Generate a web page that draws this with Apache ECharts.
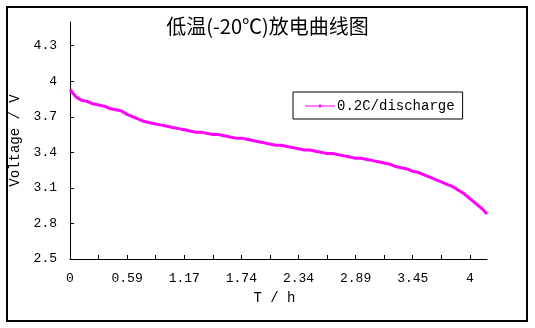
<!DOCTYPE html>
<html>
<head>
<meta charset="utf-8">
<script src="https://cdn.jsdelivr.net/npm/echarts@6/dist/echarts.min.js"></script>
<style>
html,body{margin:0;padding:0;background:#fff;}
#c{width:535px;height:328px;}
</style>
</head>
<body>
<div id="c"></div>
<script>
var titleText = '低温(-20℃)放电曲线图';
var seriesName = '0.2C/discharge';
var xName = 'T / h';
var yName = 'Voltage / V';

var times = [
  0, 0.06, 0.12, 0.18, 0.24, 0.30, 0.35, 0.41, 0.47, 0.53,
  0.59, 0.65, 0.71, 0.76, 0.82, 0.88, 0.94, 1.00, 1.05, 1.11,
  1.17, 1.23, 1.29, 1.34, 1.40, 1.46, 1.51, 1.57, 1.63, 1.68,
  1.74, 1.80, 1.86, 1.92, 1.98, 2.04, 2.10, 2.16, 2.22, 2.28,
  2.34, 2.40, 2.45, 2.51, 2.56, 2.62, 2.67, 2.73, 2.78, 2.84,
  2.89, 2.95, 3.00, 3.06, 3.12, 3.17, 3.23, 3.28, 3.34, 3.39,
  3.45, 3.51, 3.56, 3.62, 3.67, 3.73, 3.78, 3.84, 3.89, 3.95,
  4, 4.06, 4.11, 4.17
];

var voltage = [
  3.93, 3.87, 3.84, 3.83, 3.81, 3.80, 3.79, 3.77, 3.76, 3.75,
  3.72, 3.70, 3.68, 3.66, 3.65, 3.64, 3.63, 3.62, 3.61, 3.60,
  3.59, 3.58, 3.57, 3.57, 3.56, 3.55, 3.55, 3.54, 3.53, 3.52,
  3.52, 3.51, 3.50, 3.49, 3.48, 3.47, 3.46, 3.46, 3.45, 3.44,
  3.43, 3.42, 3.42, 3.41, 3.40, 3.39, 3.39, 3.38, 3.37, 3.36,
  3.35, 3.35, 3.34, 3.33, 3.32, 3.31, 3.30, 3.28, 3.27, 3.26,
  3.24, 3.23, 3.21, 3.19, 3.17, 3.15, 3.13, 3.11, 3.08, 3.05,
  3.01, 2.97, 2.93, 2.88
];

var yTicks = [2.5, 2.8, 3.1, 3.4, 3.7, 4, 4.3];
var yMin = 2.5, yMax = 4.5;

var font = 'Liberation Mono';
var chart = echarts.init(document.getElementById('c'), null, {renderer: 'canvas'});
chart.setOption({
  animation: false,
  backgroundColor: '#fff',
  title: {
    text: titleText,
    left: 'center',
    top: 16,
    padding: 0,
    textStyle: {fontFamily: 'Noto Sans CJK SC', fontSize: 20, fontWeight: 'normal', color: '#000'}
  },
  graphic: [{
    type: 'rect',
    shape: {x: 7, y: 7, width: 520, height: 314},
    style: {fill: 'none', stroke: '#000', lineWidth: 2},
    silent: true, z: 100
  }],
  legend: {
    left: 293, top: 92,
    orient: 'vertical',
    padding: [7, 8, 6, 12],
    borderColor: '#000', borderWidth: 1,
    itemWidth: 30, itemHeight: 14, itemGap: 0,
    icon: 'path://M0,0 L0.1,0 L0,0.1 Z M0,6.5 L30,6.5 L30,7.5 L0,7.5 Z M14,5.5 L16,5.5 L16,8.5 L14,8.5 Z M30,14 L29.9,14 L30,13.9 Z',
    textStyle: {fontFamily: font, fontSize: 14, color: '#000', padding: [0, 0, 0, -3]},
    data: [seriesName]
  },
  grid: {left: 70, right: 48, top: 22, bottom: 69, containLabel: false},
  xAxis: {
    type: 'category',
    data: times,
    boundaryGap: false,
    name: xName,
    nameLocation: 'middle',
    nameGap: 32,
    nameTextStyle: {fontFamily: font, fontSize: 14, color: '#000', padding: [0, 8, 0, 0]},
    axisLine: {lineStyle: {color: '#000', width: 1}},
    axisTick: {inside: true, length: 4, interval: 4, lineStyle: {color: '#000'}},
    axisLabel: {interval: 9, margin: 13, fontFamily: font, fontSize: 13, color: '#000'},
    splitLine: {show: false}
  },
  yAxis: {
    type: 'value',
    min: yMin, max: yMax,
    name: yName,
    nameLocation: 'middle',
    nameGap: 43,
    nameTextStyle: {fontFamily: font, fontSize: 14, color: '#000'},
    axisLine: {show: true, lineStyle: {color: '#000', width: 1}},
    axisTick: {show: true, inside: true, length: 4, customValues: yTicks, lineStyle: {color: '#000'}},
    axisLabel: {customValues: yTicks, margin: 13, fontFamily: font, fontSize: 13, color: '#000',
      formatter: function (v) { return String(+(+v).toFixed(1)); }},
    splitLine: {show: false}
  },
  series: [{
    name: seriesName,
    type: 'line',
    data: voltage,
    showSymbol: false,
    symbol: 'none',
    color: '#FF00FF',
    lineStyle: {color: '#FF00FF', width: 3}
  }]
});
</script>
</body>
</html>
